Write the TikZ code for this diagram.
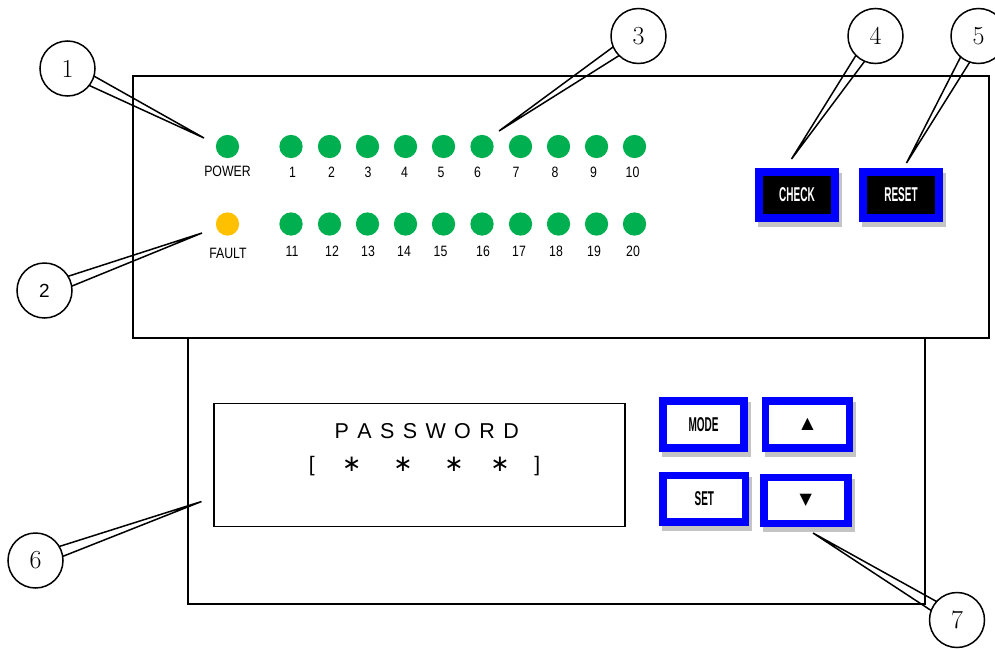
\documentclass[tikz,border=0pt]{standalone}
\usepackage{graphicx}
\usepackage{fontspec}
\newfontfamily\arial{Liberation Sans}
\newfontfamily\symfont{DejaVu Sans}
\usetikzlibrary{calc}

\definecolor{ledgreen}{HTML}{00B050}
\definecolor{ledyellow}{HTML}{FFC000}
\definecolor{keyblue}{HTML}{0000FF}
\definecolor{keyshadow}{HTML}{C4C4C4}

\newcommand\keytext[1]{\scalebox{0.5}[1]{#1}}
\newcommand\ledtext[1]{\scalebox{0.82}[1]{#1}}
\newcommand\pwstar{\makebox[0pt]{\symfont\fontsize{23}{23}\selectfont ∗}}
% wedge-shaped leader from a callout circle to its tip
\newcommand\leader[2]{%
  \draw[callline] let \p1=($(#2)-(#1.center)$), \n1={atan2(\y1,\x1)} in
    ($(#1.center)+(\n1+11:27.5pt)$) -- (#2) -- ($(#1.center)+(\n1-11:27.5pt)$);}

\tikzset{
  panel/.style={draw=black, line width=1.7pt},
  led/.style={circle, inner sep=0pt, minimum size=23.3pt, fill=#1},
  ledlabel/.style={inner sep=0pt, font=\arial\fontsize{15}{15}\selectfont},
  callout/.style={circle, draw, line width=1.5pt, fill=white, inner sep=0pt,
    minimum size=55pt, font=\fontsize{26}{26}\selectfont},
  callline/.style={line width=1.5pt, line join=miter},
  key/.style={rectangle, draw=keyblue, line width=7.6pt, inner sep=0pt,
    font=\arial\bfseries\fontsize{20}{20}\selectfont,
    preaction={draw=keyshadow, fill=keyshadow, transform canvas={shift={(3pt,-5pt)}}}},
}

\begin{document}
\begin{tikzpicture}[x=1pt, y=-1pt]
\useasboundingbox (0,0) rectangle (995,648);

% housings
\draw[panel] (133,76) rectangle (989,338);
\draw[panel] (188,338) rectangle (925,604);

% status LEDs
\node[led=ledgreen] (power) at (227.5,146.5) {};
\node[led=ledyellow] (fault) at (227.5,224) {};
\node[ledlabel] (powerlbl) at (227.5,171) {\ledtext{POWER}};
\node[ledlabel] (faultlbl) at (228,253.5) {\ledtext{FAULT}};

% channel LEDs 1-10 and 11-20
\foreach \n/\x/\lx in {1/291/292.5, 2/329.5/331.5, 3/367.5/368, 4/405.5/404.5,
    5/443.5/441, 6/482/477.5, 7/520.5/516, 8/558.5/555, 9/596.5/593.5, 10/634.5/632.5}{
  \node[led=ledgreen] (ch\n) at (\x,146.5) {};
  \node[ledlabel] (chl\n) at (\lx,172.5) {\ledtext{\n}};
}
\foreach \n/\x/\lx in {11/291/292, 12/329.5/332, 13/367.5/368, 14/405.5/404,
    15/443.5/440.5, 16/482/483, 17/520.5/519, 18/558.5/556, 19/596.5/594, 20/634.5/633}{
  \node[led=ledgreen] (ch\n) at (\x,224) {};
  \node[ledlabel] (chl\n) at (\lx,251.5) {\ledtext{\n}};
}

% front keys
\node[key, fill=black, text=white, minimum width=76.4pt, minimum height=46pt]
  (check) at (797,194.8) {\keytext{CHECK}};
\node[key, fill=black, text=white, minimum width=76.4pt, minimum height=46pt]
  (reset) at (901,194.8) {\keytext{RESET}};
\node[key, fill=white, minimum width=81pt, minimum height=47pt]
  (mode) at (703.5,424.5) {\keytext{MODE}};
\node[key, fill=white, minimum width=84pt, minimum height=47pt]
  (up) at (807.5,424.5) {\symfont\mdseries\fontsize{16}{16}\selectfont ▲};
\node[key, fill=white, minimum width=82.6pt, minimum height=46.8pt]
  (set) at (704.3,498.8) {\keytext{SET}};
\node[key, fill=white, minimum width=84.2pt, minimum height=46pt]
  (down) at (805.8,500.6) {\symfont\mdseries\fontsize{16}{16}\selectfont ▼};

% display window
\draw[line width=1.5pt] (214,403.3) rectangle (625,526.7);
\node[inner sep=0pt, font=\arial\fontsize{21.5}{21.5}\selectfont] (pwd) at (426.7,430.7)
  {P\hspace{8.4pt}A\hspace{8.4pt}S\hspace{8.4pt}S\hspace{8.4pt}W\hspace{8.4pt}O\hspace{8.4pt}R\hspace{8.4pt}D};
\node[inner sep=0pt, font=\arial\fontsize{21}{21}\selectfont] (stars) at (424.5,466)
  {\makebox[0pt]{[}\hspace{40pt}\pwstar\hspace{51.3pt}\pwstar\hspace{51pt}\pwstar
   \hspace{46pt}\pwstar\hspace{37.3pt}\makebox[0pt]{]}};

% callout tips
\coordinate (t1) at (204,138);
\coordinate (t2) at (202,233);
\coordinate (t3) at (499,131);
\coordinate (t4) at (791.5,159);
\coordinate (t5) at (906.5,163);
\coordinate (t6) at (201.5,501.5);
\coordinate (t7) at (813,533);

% callouts
\node[callout] (c1) at (67.5,68.5) {1};
\node[callout, font=\arial\fontsize{19}{19}\selectfont] (c2) at (44.5,290.5) {2};
\node[callout] (c3) at (638.5,36) {3};
\node[callout] (c4) at (875.5,36) {4};
\node[callout] (c5) at (978.5,36) {5};
\node[callout] (c6) at (35.5,560.5) {6};
\node[callout] (c7) at (957,620) {7};

\leader{c1}{t1}
\leader{c2}{t2}
\leader{c3}{t3}
\leader{c4}{t4}
\leader{c5}{t5}
\leader{c6}{t6}
\leader{c7}{t7}
\end{tikzpicture}
\end{document}
